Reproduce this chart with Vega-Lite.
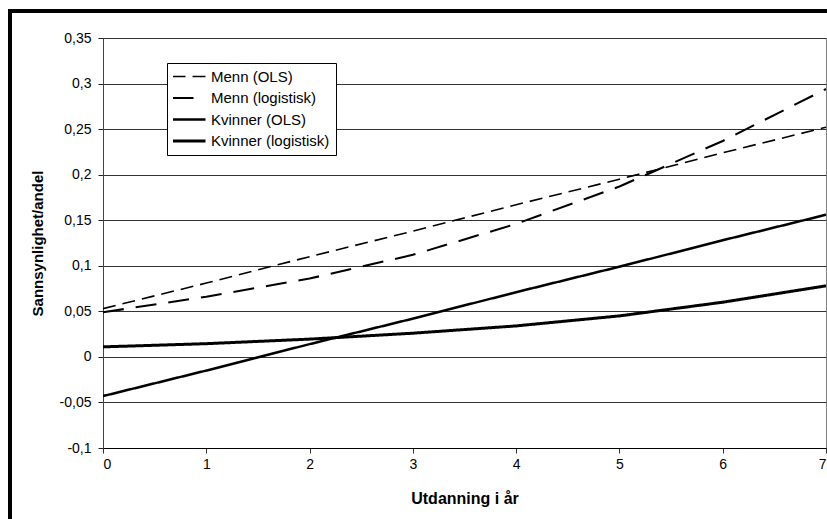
{
  "$schema": "https://vega.github.io/schema/vega-lite/v6.json",
  "autosize": {"type": "none"},
  "width": 723,
  "height": 410,
  "padding": {"left": 103, "top": 38, "right": 1, "bottom": 71},
  "background": "white",
  "config": {
    "view": {"stroke": "#808080", "strokeWidth": 1},
    "font": "Liberation Sans",
    "axis": {
      "labelFont": "Liberation Sans",
      "labelFontSize": 14,
      "labelColor": "black",
      "titleFont": "Liberation Sans",
      "titleFontWeight": "bold",
      "titleColor": "black",
      "tickColor": "#222222",
      "tickSize": 5,
      "domainColor": "#222222"
    },
    "legend": {
      "symbolType": "stroke",
      "symbolSize": 1089,
      "symbolOffset": -2,
      "labelOffset": 4,
      "labelFont": "Liberation Sans",
      "labelFontSize": 15,
      "labelColor": "black",
      "symbolStrokeColor": "black",
      "symbolFillColor": "transparent",
      "clipHeight": 15,
      "rowPadding": 5.5,
      "padding": 6,
      "strokeColor": "black",
      "fillColor": "white"
    }
  },
  "data": {
    "values": [
      {"series": "Menn (OLS)", "x": 0, "y": 0.053},
      {"series": "Menn (OLS)", "x": 1, "y": 0.081},
      {"series": "Menn (OLS)", "x": 2, "y": 0.110},
      {"series": "Menn (OLS)", "x": 3, "y": 0.138},
      {"series": "Menn (OLS)", "x": 4, "y": 0.167},
      {"series": "Menn (OLS)", "x": 5, "y": 0.195},
      {"series": "Menn (OLS)", "x": 6, "y": 0.224},
      {"series": "Menn (OLS)", "x": 7, "y": 0.252},
      {"series": "Menn (logistisk)", "x": 0, "y": 0.049},
      {"series": "Menn (logistisk)", "x": 1, "y": 0.066},
      {"series": "Menn (logistisk)", "x": 2, "y": 0.086},
      {"series": "Menn (logistisk)", "x": 3, "y": 0.112},
      {"series": "Menn (logistisk)", "x": 4, "y": 0.146},
      {"series": "Menn (logistisk)", "x": 5, "y": 0.187},
      {"series": "Menn (logistisk)", "x": 6, "y": 0.237},
      {"series": "Menn (logistisk)", "x": 7, "y": 0.294},
      {"series": "Kvinner (OLS)", "x": 0, "y": -0.043},
      {"series": "Kvinner (OLS)", "x": 1, "y": -0.015},
      {"series": "Kvinner (OLS)", "x": 2, "y": 0.014},
      {"series": "Kvinner (OLS)", "x": 3, "y": 0.042},
      {"series": "Kvinner (OLS)", "x": 4, "y": 0.071},
      {"series": "Kvinner (OLS)", "x": 5, "y": 0.099},
      {"series": "Kvinner (OLS)", "x": 6, "y": 0.128},
      {"series": "Kvinner (OLS)", "x": 7, "y": 0.156},
      {"series": "Kvinner (logistisk)", "x": 0, "y": 0.011},
      {"series": "Kvinner (logistisk)", "x": 1, "y": 0.0145},
      {"series": "Kvinner (logistisk)", "x": 2, "y": 0.0195},
      {"series": "Kvinner (logistisk)", "x": 3, "y": 0.026},
      {"series": "Kvinner (logistisk)", "x": 4, "y": 0.034},
      {"series": "Kvinner (logistisk)", "x": 5, "y": 0.045},
      {"series": "Kvinner (logistisk)", "x": 6, "y": 0.060},
      {"series": "Kvinner (logistisk)", "x": 7, "y": 0.078}
    ]
  },
  "layer": [
    {
      "mark": {"type": "line", "color": "black", "clip": true},
      "encoding": {
        "x": {
          "field": "x", "type": "quantitative",
          "scale": {"domain": [0, 7], "nice": false},
          "axis": {
            "title": "Utdanning i år",
            "titleFontSize": 16,
            "titlePadding": 19,
            "values": [0, 1, 2, 3, 4, 5, 6, 7],
            "format": "d",
            "grid": false,
            "labelPadding": 4,
            "domainColor": "black",
            "tickColor": "#333333"
          }
        },
        "y": {
          "field": "y", "type": "quantitative",
          "scale": {"domain": [-0.1, 0.35], "nice": false, "zero": false},
          "axis": {
            "title": "Sannsynlighet/andel",
            "titleFontSize": 15,
            "titlePadding": 14,
            "values": [-0.1, -0.05, 0, 0.05, 0.1, 0.15, 0.2, 0.25, 0.3, 0.35],
            "labelExpr": "replace('' + datum.value, '.', ',')",
            "grid": true,
            "gridColor": "#333333",
            "gridWidth": 1,
            "labelPadding": 7,
            "domainColor": "#444444"
          }
        },
        "strokeDash": {
          "field": "series", "type": "nominal",
          "scale": {
            "domain": ["Menn (OLS)", "Menn (logistisk)", "Kvinner (OLS)", "Kvinner (logistisk)"],
            "range": [[13, 7], [21, 12], [1, 0], [1, 0]]
          },
          "legend": {"title": null, "orient": "none", "legendX": 64, "legendY": 25}
        },
        "strokeWidth": {
          "field": "series", "type": "nominal",
          "scale": {
            "domain": ["Menn (OLS)", "Menn (logistisk)", "Kvinner (OLS)", "Kvinner (logistisk)"],
            "range": [1.6, 3, 2, 3.6]
          },
          "legend": {"title": null, "orient": "none", "legendX": 64, "legendY": 25}
        }
      }
    },
    {
      "mark": {"type": "rule", "color": "black", "strokeWidth": 3, "clip": false, "strokeCap": "square"},
      "encoding": {
        "x": {"datum": -0.9},
        "y": {"datum": 0.3796},
        "y2": {"datum": -0.2}
      }
    },
    {
      "mark": {"type": "rule", "color": "black", "strokeWidth": 3, "clip": false, "strokeCap": "square"},
      "encoding": {
        "x": {"datum": -0.9},
        "x2": {"datum": 7.1},
        "y": {"datum": 0.3796}
      }
    }
  ]
}
